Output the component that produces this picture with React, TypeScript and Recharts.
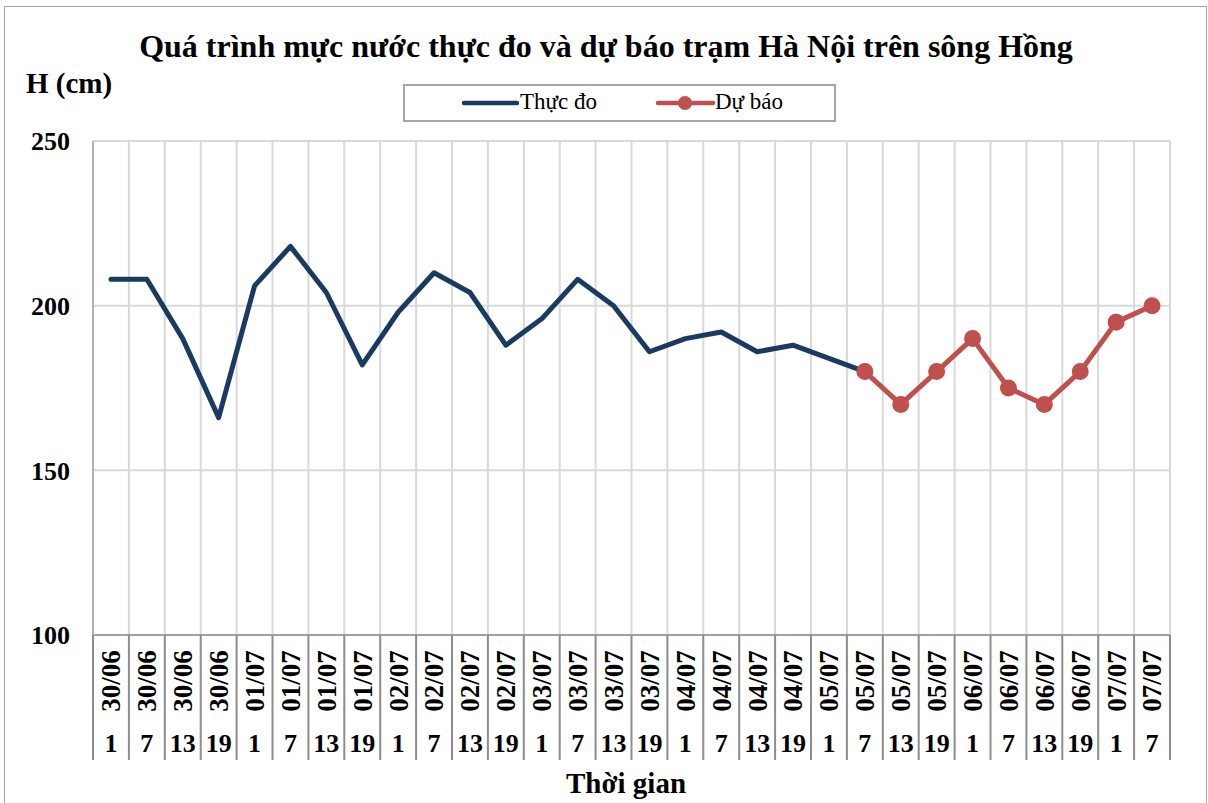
import {
  CartesianGrid,
  Legend,
  Line,
  LineChart,
  XAxis,
  YAxis,
} from "recharts";

const dates = [
  "30/06", "30/06", "30/06", "30/06",
  "01/07", "01/07", "01/07", "01/07",
  "02/07", "02/07", "02/07", "02/07",
  "03/07", "03/07", "03/07", "03/07",
  "04/07", "04/07", "04/07", "04/07",
  "05/07", "05/07", "05/07", "05/07",
  "06/07", "06/07", "06/07", "06/07",
  "07/07", "07/07",
];
const hours = [
  1, 7, 13, 19, 1, 7, 13, 19, 1, 7, 13, 19, 1, 7, 13, 19,
  1, 7, 13, 19, 1, 7, 13, 19, 1, 7, 13, 19, 1, 7,
];
// measured levels, 30/06 1h -> 05/07 7h
const thucDo = [
  208, 208, 190, 166, 206, 218, 204, 182, 198, 210, 204, 188,
  196, 208, 200, 186, 190, 192, 186, 188, 184, 180,
];
// forecast, 05/07 7h -> 07/07 7h
const duBao = [180, 170, 180, 190, 175, 170, 180, 195, 200];
const forecastStart = 21;
const yTicks = [100, 150, 200, 250];

const data = dates.map((date, i) => ({
  key: i,
  date,
  hour: hours[i],
  thucDo: i < thucDo.length ? thucDo[i] : null,
  duBao: i >= forecastStart ? duBao[i - forecastStart] : null,
}));

const FONT = '"Liberation Serif", "Times New Roman", serif';
const W = 1208;
const H = 803;
const PLOT_LEFT = 93;
const PLOT_RIGHT = 1170;
const BAND = (PLOT_RIGHT - PLOT_LEFT) / dates.length;
const BLUE = "#1B3A62";
const RED = "#C0504D";

function CategoryTick(props: any) {
  const { x, y, payload } = props;
  const i = Number(payload.value);
  const half = BAND / 2;
  const dy = y + 46;
  return (
    <g>
      <line x1={x - half} x2={x - half} y1={y} y2={y + 125} stroke="#8c8c8c" strokeWidth={2} />
      {i === dates.length - 1 && (
        <line x1={x + half} x2={x + half} y1={y} y2={y + 125} stroke="#8c8c8c" strokeWidth={2} />
      )}
      <text
        x={x}
        y={dy}
        dy="0.35em"
        transform={`rotate(-90 ${x} ${dy})`}
        textAnchor="middle"
        fontFamily={FONT}
        fontWeight="bold"
        fontSize={27}
        fill="#000"
      >
        {dates[i]}
      </text>
      <text
        x={x}
        y={y + 117}
        textAnchor="middle"
        fontFamily={FONT}
        fontWeight="bold"
        fontSize={26}
        fill="#000"
      >
        {hours[i]}
      </text>
    </g>
  );
}

function LegendBox() {
  return (
    <div
      style={{
        position: "relative",
        width: 433,
        height: 38,
        border: "2px solid #a6a6a6",
        boxSizing: "border-box",
        fontFamily: FONT,
        fontSize: 23,
        background: "#fff",
      }}
    >
      <svg width={433} height={34} style={{ position: "absolute", left: 0, top: 0 }}>
        <line x1={59} x2={112} y1={17} y2={17} stroke={BLUE} strokeWidth={4.5} strokeLinecap="round" />
        <line x1={253} x2={308} y1={17} y2={17} stroke={RED} strokeWidth={4.5} strokeLinecap="round" />
        <circle cx={280} cy={17} r={7} fill={RED} />
      </svg>
      <span style={{ position: "absolute", left: 115, top: 1, lineHeight: "30px" }}>Thực đo</span>
      <span style={{ position: "absolute", left: 310, top: 1, lineHeight: "30px" }}>Dự báo</span>
    </div>
  );
}

export default function App() {
  return (
    <div
      style={{
        position: "absolute",
        left: 0,
        top: 0,
        width: W,
        height: H,
        overflow: "hidden",
        background: "#fff",
      }}
    >
      <div
        style={{
          position: "absolute",
          left: 4,
          top: 6,
          width: 1203,
          height: 820,
          border: "1.5px solid #a6a6a6",
          boxSizing: "border-box",
        }}
      />
      <LineChart
        width={W}
        height={H}
        data={data}
        margin={{ top: 141, right: W - PLOT_RIGHT, bottom: 43, left: 0 }}
      >
        <CartesianGrid
          stroke="#d9d9d9"
          strokeWidth={2}
          verticalCoordinatesGenerator={({ offset }: any) =>
            dates.map((_, i) => offset.left + ((i + 1) * offset.width) / dates.length)
          }
        />
        <XAxis
          dataKey="key"
          type="category"
          scale="band"
          interval={0}
          height={125}
          tickSize={0}
          tickMargin={0}
          tickLine={false}
          axisLine={{ stroke: "#a0a0a0", strokeWidth: 2 }}
          tick={<CategoryTick />}
        />
        <YAxis
          width={PLOT_LEFT}
          domain={[100, 250]}
          ticks={yTicks}
          interval={0}
          tickSize={0}
          tickMargin={23}
          tickLine={false}
          axisLine={{ stroke: "#b0b0b0", strokeWidth: 2 }}
          tick={{ fontFamily: FONT, fontWeight: "bold", fontSize: 26, fill: "#000" }}
        />
        <Legend
          verticalAlign="middle"
          align="center"
          layout="horizontal"
          wrapperStyle={{ top: 84, left: 403, width: 433, height: 38 }}
          content={<LegendBox />}
        />
        <Line
          dataKey="thucDo"
          name="Thực đo"
          stroke={BLUE}
          strokeWidth={5}
          strokeLinejoin="round"
          strokeLinecap="round"
          dot={false}
          activeDot={false}
          isAnimationActive={false}
        />
        <Line
          dataKey="duBao"
          name="Dự báo"
          stroke={RED}
          strokeWidth={5}
          strokeLinejoin="round"
          dot={{ r: 7.5, fill: RED, stroke: RED, strokeWidth: 2 }}
          activeDot={false}
          isAnimationActive={false}
        />
      </LineChart>
      <svg
        width={W}
        height={H}
        style={{ position: "absolute", left: 0, top: 0, pointerEvents: "none" }}
      >
        <text x={606} y={57} textAnchor="middle" fontFamily={FONT} fontWeight="bold" fontSize={32}>
          Quá trình mực nước thực đo và dự báo trạm Hà Nội trên sông Hồng
        </text>
        <text x={26} y={93} fontFamily={FONT} fontWeight="bold" fontSize={29}>
          H (cm)
        </text>
        <text x={626} y={793} textAnchor="middle" fontFamily={FONT} fontWeight="bold" fontSize={29}>
          Thời gian
        </text>
      </svg>
    </div>
  );
}
